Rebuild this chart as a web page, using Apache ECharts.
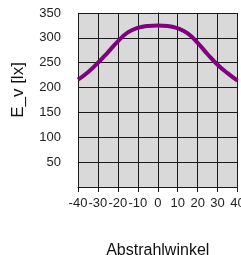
<!DOCTYPE html>
<html>
<head>
<meta charset="utf-8">
<script src="https://cdn.jsdelivr.net/npm/echarts@6/dist/echarts.min.js"></script>
<style>
  html, body { margin: 0; padding: 0; background: #fff; }
  #chart { width: 241px; height: 255px; }
</style>
</head>
<body>
<div id="chart"></div>
<script>
// Abstrahlwinkel (deg) -> E_v (lx)
const angles = [-40, -35, -30, -25, -20, -15, -10, -5, 0, 5, 10, 15, 20, 25, 30, 35, 40]
const illuminance = [216, 231, 250, 271, 293, 311, 320, 324, 325, 324, 319, 309, 290, 267, 246, 229, 214]

const chart = echarts.init(document.getElementById('chart'))

const lineColor = '#1a1a1a'
const labelStyle = {
  color: '#222',
  fontFamily: 'Liberation Sans, Arial, sans-serif',
  fontSize: 13
}

chart.setOption({
  animation: false,
  grid: {
    left: 78,
    right: 3.5,
    top: 13,
    bottom: 68,
    outerBoundsMode: 'none',
    containLabel: false,
    show: true,
    backgroundColor: '#d9d9d9',
    borderWidth: 0
  },
  xAxis: {
    type: 'value',
    min: -40,
    max: 40,
    interval: 10,
    name: 'Abstrahlwinkel',
    nameLocation: 'middle',
    nameGap: 56,
    nameTextStyle: {
      color: '#111',
      fontFamily: 'Liberation Sans, Arial, sans-serif',
      fontSize: 16
    },
    axisLine: { show: true, lineStyle: { color: lineColor, width: 1 } },
    axisTick: { show: true, length: 5, lineStyle: { color: lineColor } },
    axisLabel: { ...labelStyle, margin: 10, hideOverlap: false },
    splitLine: { show: true, lineStyle: { color: lineColor, width: 1 } }
  },
  yAxis: {
    type: 'value',
    min: 0,
    max: 350,
    interval: 50,
    name: 'E_v [lx]',
    nameLocation: 'middle',
    nameGap: 51,
    nameTextStyle: {
      color: '#111',
      fontFamily: 'Liberation Sans, Arial, sans-serif',
      fontSize: 17,
      padding: [0, 0, 0, 20]
    },
    axisLine: { show: true, lineStyle: { color: lineColor, width: 1 } },
    axisTick: { show: false },
    axisLabel: { ...labelStyle, margin: 17, showMinLabel: false },
    splitLine: { show: true, lineStyle: { color: lineColor, width: 1 } }
  },
  series: [{
    type: 'line',
    data: angles.map((a, i) => [a, illuminance[i]]),
    smooth: true,
    showSymbol: false,
    lineStyle: { color: '#800080', width: 4 }
  }]
})
</script>
</body>
</html>
